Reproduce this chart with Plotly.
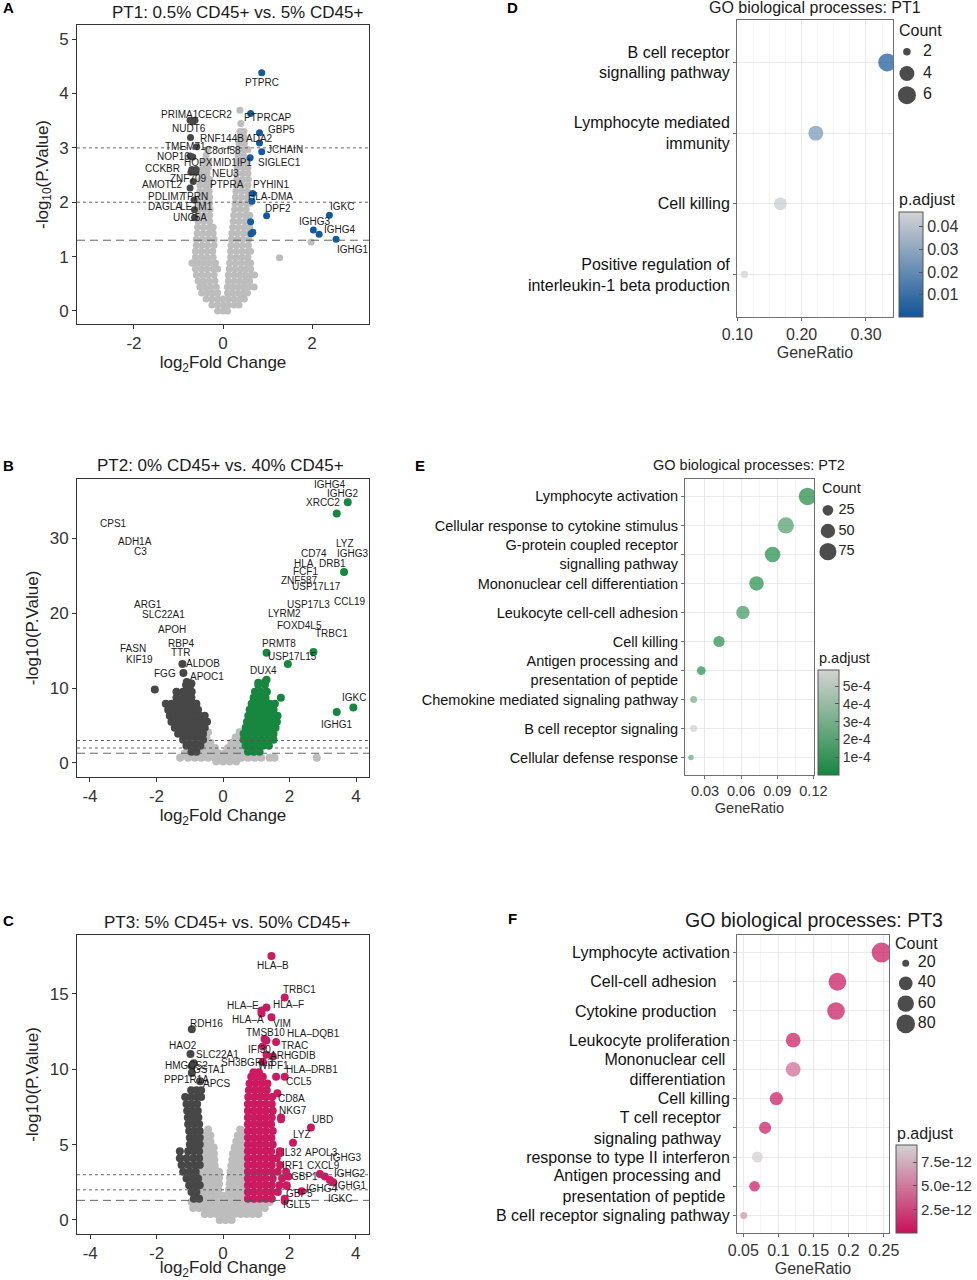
import plotly.graph_objects as go

W, H = 977, 1280
FONT = "Liberation Sans, Arial, Helvetica, sans-serif"

# ------------------------------------------------------------------ data
# Panel A  (PT1 volcano) -- rows of (-log10 p, [log2FC ...]) for the grey cloud
a_grey_rows = [
    (0.00, [-0.12, 0.0, 0.1]),
    (0.11, [-0.25, -0.12, 0.0, 0.12, 0.25, 0.36]),
    (0.22, [-0.38, -0.25, -0.12, 0.0, 0.12, 0.25, 0.38, 0.48]),
    (0.33, [-0.48, -0.36, -0.24, -0.12, 0.1, 0.22, 0.34, 0.46, 0.55]),
    (0.44, [-0.52, -0.4, -0.28, -0.15, 0.1, 0.22, 0.34, 0.46, 0.58, 0.7]),
    (0.55, [-0.56, -0.44, -0.31, -0.18, 0.12, 0.25, 0.38, 0.5, 0.6]),
    (0.66, [-0.6, -0.47, -0.34, -0.2, 0.12, 0.25, 0.38, 0.5, 0.63, 0.71]),
    (0.77, [-0.62, -0.49, -0.36, -0.22, -0.12, 0.14, 0.27, 0.4, 0.52, 0.62]),
    (0.88, [-0.7, -0.56, -0.43, -0.3, -0.17, 0.15, 0.28, 0.41, 0.54, 0.62]),
    (0.99, [-0.62, -0.49, -0.36, -0.22, 0.17, 0.3, 0.43, 0.56]),
    (1.10, [-0.62, -0.49, -0.36, -0.23, 0.17, 0.3, 0.43, 0.56, 0.62]),
    (1.21, [-0.6, -0.47, -0.34, -0.2, 0.18, 0.31, 0.44, 0.57]),
    (1.32, [-0.6, -0.47, -0.34, -0.2, 0.19, 0.32, 0.45, 0.58]),
    (1.43, [-0.58, -0.45, -0.32, -0.22, 0.2, 0.33, 0.46, 0.58]),
    (1.54, [-0.57, -0.44, -0.31, -0.22, 0.22, 0.35, 0.48, 0.6]),
    (1.65, [-0.56, -0.43, -0.3, 0.23, 0.36, 0.49, 0.58]),
    (1.76, [-0.55, -0.42, -0.3, 0.24, 0.37, 0.5, 0.6]),
    (1.87, [-0.54, -0.41, -0.29, 0.26, 0.39, 0.52]),
    (1.98, [-0.53, -0.41, -0.3, 0.27, 0.4, 0.53, 0.6]),
    (2.09, [-0.52, -0.4, -0.3, 0.28, 0.41, 0.54]),
    (2.20, [-0.52, -0.4, -0.31, 0.29, 0.42, 0.55]),
    (2.31, [-0.52, -0.4, -0.31, 0.3, 0.43, 0.56]),
    (2.42, [-0.5, -0.38, -0.3, 0.31, 0.44, 0.57]),
    (2.53, [-0.48, -0.36, 0.31, 0.44, 0.56]),
    (2.64, [-0.45, -0.33, 0.32, 0.45, 0.56]),
    (2.75, [-0.42, -0.32, 0.33, 0.46, 0.55]),
    (2.86, [-0.38, 0.34, 0.46]),
    (2.97, [-0.35, 0.35, 0.47, 0.56]),
    (3.08, [0.36, 0.48]),
    (3.19, [0.37, 0.48]),
    (3.30, [0.38, 0.47]),
    (3.45, [0.4]),
    (3.69, [0.38]),
]
a_grey_extra = [(1.98, 1.27), (1.27, 0.98), (-0.68, 0.88)]
a_down = [(-0.74, 3.51), (-0.63, 3.51), (-0.68, 3.48), (-0.73, 3.19), (-0.74, 2.85),
          (-0.68, 2.83), (-0.59, 3.02), (-0.72, 2.55), (-0.61, 2.55), (-0.67, 2.38),
          (-0.74, 2.26), (-0.65, 2.04), (-0.64, 1.86), (-0.64, 1.72), (-0.6, 2.6), (-0.7, 2.6)]
a_up = [(0.87, 4.38), (0.62, 3.63), (0.82, 3.28), (0.82, 3.09), (0.87, 2.93), (0.61, 2.82),
        (0.67, 2.16), (0.65, 2.02), (0.98, 1.75), (0.62, 1.64), (0.67, 1.45), (0.63, 1.42),
        (2.39, 1.76), (2.03, 1.49), (2.16, 1.41), (2.54, 1.32)]
a_labels = [("PTPRC", 0.88, 4.2), ("PTPRCAP", 1.0, 3.55), ("GBP5", 1.32, 3.34), ("ADA2", 0.83, 3.17),
            ("JCHAIN", 1.39, 2.97), ("SIGLEC1", 1.27, 2.73), ("PYHIN1", 1.09, 2.32),
            ("HLA-DMA", 1.06, 2.1), ("DPF2", 1.24, 1.89), ("IGKC", 2.67, 1.92),
            ("IGHG3", 2.07, 1.64), ("IGHG4", 2.63, 1.49), ("IGHG1", 2.93, 1.13),
            ("PRIMA1", -0.97, 3.62), ("CECR2", -0.18, 3.62), ("NUDT6", -0.76, 3.36),
            ("RNF144B", -0.03, 3.17), ("TMEM71", -0.85, 3.02), ("C8orf58", -0.01, 2.96),
            ("NOP16", -1.12, 2.84), ("HOPX", -0.55, 2.73), ("MID1IP1", 0.21, 2.73),
            ("CCKBR", -1.37, 2.62), ("NEU3", 0.06, 2.53), ("ZNF709", -0.78, 2.44),
            ("PTPRA", 0.08, 2.32), ("AMOTL2", -1.38, 2.32), ("PDLIM7", -1.27, 2.11),
            ("TPRN", -0.63, 2.11), ("DAGLA", -1.3, 1.92), ("LETM1", -0.59, 1.92),
            ("UNC5A", -0.75, 1.72)]

# Panel B  (PT2 volcano)
b_grey_rows = [
    (0.2, [-0.2, 0.0, 0.2, 0.4]),
    (0.7, [-1.29, -1.05, -0.85, -0.65, -0.45, -0.25, -0.05, 0.15, 0.35, 0.55, 0.75, 0.95,
           1.15, 1.4, 1.55, 2.82]),
    (1.3, [-1.15, -0.95, -0.75, -0.55, -0.35, -0.15, 0.05, 0.25, 0.45, 0.65, 0.85, 1.05]),
    (2.0, [-0.78, -0.6, -0.42, -0.24, 0.15, 0.33, 0.5, 0.66]),
    (2.7, [-0.72, -0.55, -0.38, 0.25, 0.42, 0.6]),
    (3.4, [-0.66, -0.5, 0.38, 0.55, 0.7]),
    (4.1, [-0.6, -0.45, 0.5]),
    (4.6, [-0.58]),
]
b_down_rows = [
    (1.5, [-0.95, -0.8]),
    (2.3, [-1.1, -0.95, -0.8, -0.68]),
    (3.1, [-1.2, -1.05, -0.9, -0.75, -0.6]),
    (3.9, [-1.35, -1.2, -1.05, -0.9, -0.75, -0.6]),
    (4.7, [-1.45, -1.3, -1.15, -1.0, -0.85, -0.7, -0.55]),
    (5.5, [-1.55, -1.4, -1.25, -1.1, -0.95, -0.8, -0.65, -0.48]),
    (6.3, [-1.6, -1.45, -1.3, -1.15, -1.0, -0.85, -0.7, -0.55]),
    (7.1, [-1.65, -1.5, -1.35, -1.2, -1.05, -0.9, -0.75]),
    (7.9, [-1.72, -1.55, -1.4, -1.25, -1.1, -0.95, -0.8]),
    (8.7, [-1.4, -1.25, -1.1, -0.95]),
    (9.5, [-1.4, -1.2, -1.05, -0.94]),
    (10.4, [-1.11, -0.98]),
]
b_down_extra = [(-2.05, 9.8), (-1.22, 13.2), (-1.19, 12.0), (-0.95, 10.6), (-1.09, 10.8)]
b_up_rows = [
    (1.5, [0.75, 0.92, 1.1]),
    (2.3, [0.68, 0.85, 1.02, 1.2, 1.38]),
    (3.1, [0.62, 0.8, 0.98, 1.16, 1.34, 1.52]),
    (3.9, [0.62, 0.8, 0.98, 1.16, 1.34, 1.52]),
    (4.7, [0.68, 0.86, 1.04, 1.22, 1.4, 1.58]),
    (5.5, [0.72, 0.9, 1.08, 1.26, 1.44, 1.62]),
    (6.3, [0.76, 0.94, 1.12, 1.3, 1.48, 1.64]),
    (7.1, [0.8, 0.98, 1.16, 1.34, 1.52]),
    (7.9, [0.86, 1.04, 1.22, 1.4, 1.56]),
    (8.7, [0.92, 1.1, 1.28, 1.74]),
    (9.5, [0.96, 1.14, 1.32]),
    (10.4, [1.06, 1.26]),
    (11.1, [1.31]),
]
b_up_extra = [(3.75, 34.8), (3.42, 33.3), (3.64, 25.5), (2.72, 14.8), (1.95, 13.2),
              (1.31, 14.7), (3.92, 7.4), (3.42, 6.8), (1.06, 10.7), (1.26, 10.8)]
b_labels = [("IGHG4", 3.22, 37.1), ("IGHG2", 3.62, 35.9), ("XRCC2", 3.02, 34.7),
            ("CPS1", -3.3, 32.0), ("ADH1A", -2.65, 29.5), ("C3", -2.48, 28.2),
            ("LYZ", 3.67, 29.3), ("CD74", 2.75, 28.0), ("IGHG3", 3.9, 27.9),
            ("HLA", 2.44, 26.6), ("DRB1", 3.29, 26.6), ("FCF1", 2.47, 25.5),
            ("ZNF587", 2.29, 24.4), ("USP17L17", 2.82, 23.5), ("CCL19", 3.82, 21.6),
            ("USP17L3", 2.57, 21.2), ("LYRM2", 1.86, 20.0), ("ARG1", -2.25, 21.2),
            ("SLC22A1", -1.8, 19.8), ("APOH", -1.54, 17.8), ("FOXD4L5", 2.29, 18.4),
            ("TRBC1", 3.25, 17.3), ("RBP4", -1.26, 16.0), ("PRMT8", 1.69, 16.0),
            ("FASN", -2.7, 15.3), ("TTR", -1.29, 14.7), ("USP17L15", 2.1, 14.2),
            ("KIF19", -2.5, 13.8), ("ALDOB", -0.59, 13.3), ("FGG", -1.74, 12.0),
            ("APOC1", -0.47, 11.6), ("DUX4", 1.21, 12.3), ("IGKC", 3.95, 8.8),
            ("IGHG1", 3.42, 5.2)]

# Panel C  (PT3 volcano)
c_grey_rows = [
    (0.0, [-0.1, 0.08, 0.26]),
    (0.4, [-0.55, -0.37, -0.19, -0.01, 0.17, 0.35, 0.53, 0.71, 0.89, 1.07]),
    (0.8, [-0.9, -0.72, -0.54, -0.36, -0.18, 0.0, 0.18, 0.36, 0.54, 0.72, 0.9, 1.08, 1.26]),
    (1.2, [-0.95, -0.77, -0.59, -0.41, -0.23, -0.05, 0.13, 0.31, 0.49, 0.67, 0.85, 1.03,
           1.2, 1.4]),
    (1.6, [-0.7, -0.52, -0.34, -0.16, 0.0, 0.15, 0.33, 0.51, 0.66]),
    (2.0, [-0.68, -0.5, -0.32, -0.14, 0.18, 0.36, 0.54, 0.66]),
    (2.4, [-0.66, -0.48, -0.3, -0.12, 0.2, 0.38, 0.56, 0.66]),
    (2.8, [-0.64, -0.46, -0.28, -0.12, 0.21, 0.39, 0.57, 0.66]),
    (3.2, [-0.62, -0.44, -0.26, -0.12, 0.23, 0.41, 0.58, 0.66]),
    (3.6, [-0.6, -0.42, -0.25, 0.25, 0.43, 0.6]),
    (4.0, [-0.6, -0.42, -0.26, 0.28, 0.45, 0.6]),
    (4.4, [-0.58, -0.4, -0.27, 0.3, 0.46, 0.6]),
    (4.8, [-0.56, -0.4, -0.28, 0.35, 0.5, 0.6]),
    (5.2, [-0.52, -0.38, 0.4, 0.52]),
    (5.6, [-0.5, -0.38, 0.45, 0.56]),
    (6.0, [-0.45, 0.52]),
]
c_down_rows = [
    (1.4, [-0.88, -0.72]),
    (1.85, [-0.95, -0.8]),
    (2.3, [-1.02, -0.86, -0.7]),
    (2.75, [-1.1, -0.92, -0.75]),
    (3.2, [-1.2, -1.0, -0.82]),
    (3.65, [-1.25, -1.05, -0.86, -0.7]),
    (4.1, [-1.3, -1.1, -0.9, -0.72]),
    (4.55, [-1.3, -1.05, -0.88, -0.72]),
    (5.0, [-1.0, -0.85, -0.7]),
    (5.45, [-1.0, -0.85, -0.7]),
    (5.9, [-1.02, -0.86, -0.7]),
    (6.35, [-1.05, -0.88, -0.72]),
    (6.8, [-1.06, -0.9, -0.74]),
    (7.25, [-1.08, -0.92, -0.76]),
    (7.7, [-1.1, -0.94, -0.78]),
    (8.15, [-1.14, -0.96, -0.8, -0.66]),
    (8.6, [-0.96, -0.8, -0.66]),
]
c_down_extra = [(-0.69, 9.2), (-0.94, 9.75), (-0.94, 10.2), (-0.88, 10.4), (-0.98, 11.0),
                (-0.94, 12.65)]
c_up_rows = [
    (1.4, [0.75, 0.93, 1.11, 1.29, 1.47, 1.86]),
    (1.85, [0.75, 0.93, 1.11, 1.29, 1.47, 1.65]),
    (2.3, [0.75, 0.93, 1.11, 1.29, 1.47, 1.7, 1.92]),
    (2.75, [0.75, 0.93, 1.11, 1.29, 1.5, 1.78]),
    (3.2, [0.75, 0.93, 1.11, 1.29, 1.47, 1.65, 1.9]),
    (3.65, [0.75, 0.93, 1.11, 1.29, 1.47, 1.72]),
    (4.1, [0.75, 0.93, 1.11, 1.29, 1.47, 1.62]),
    (4.55, [0.75, 0.93, 1.11, 1.29, 1.45, 1.71]),
    (5.0, [0.75, 0.93, 1.11, 1.29, 1.5]),
    (5.45, [0.75, 0.93, 1.11, 1.29, 1.46]),
    (5.9, [0.75, 0.93, 1.11, 1.29, 1.5]),
    (6.35, [0.75, 0.93, 1.11, 1.29, 1.45]),
    (6.8, [0.75, 0.93, 1.11, 1.29, 1.47, 1.75]),
    (7.25, [0.75, 0.93, 1.11, 1.29, 1.5]),
    (7.7, [0.75, 0.93, 1.11, 1.29, 1.47]),
    (8.15, [0.76, 0.94, 1.12, 1.3, 1.48]),
    (8.6, [0.78, 0.96, 1.14, 1.32]),
    (9.05, [0.8, 0.98, 1.16, 1.34]),
    (9.5, [0.85, 1.03, 1.2, 1.6, 1.86]),
    (9.8, [0.92, 1.08]),
]
c_up_extra = [(1.64, 8.4), (1.2, 11.5), (1.31, 11.9), (1.6, 11.8), (1.25, 12.0), (1.31, 10.95),
              (1.5, 10.85), (1.2, 10.5), (1.16, 13.7), (1.46, 13.45), (1.16, 13.9), (1.31, 14.1),
              (1.86, 14.75), (1.46, 17.5), (1.75, 6.68), (2.65, 6.13), (2.11, 5.13), (1.71, 4.42),
              (2.92, 3.05), (3.07, 2.88), (3.22, 2.65), (3.32, 2.5), (1.97, 2.88), (1.92, 2.26),
              (1.86, 1.26), (2.37, 1.9)]
c_labels = [("HLA–B", 1.51, 16.85), ("TRBC1", 2.32, 15.3), ("HLA–F", 1.96, 14.3),
            ("HLA–E", 0.59, 14.2), ("HLA–A", 0.76, 13.3), ("VIM", 1.79, 13.05),
            ("RDH16", -0.51, 13.05), ("TMSB10", 1.29, 12.45), ("HLA–DQB1", 2.72, 12.35),
            ("TRAC", 2.15, 11.6), ("HAO2", -1.21, 11.6), ("IFI30", 1.09, 11.3),
            ("ARHGDIB", 2.1, 10.9), ("SLC22A1", -0.17, 10.95), ("SH3BGRL3", 0.73, 10.46),
            ("HMGCS2", -1.09, 10.24), ("GSTA1", -0.41, 9.95), ("WIPF1", 1.51, 10.24),
            ("HLA–DRB1", 2.67, 10.0), ("PPP1R1A", -1.09, 9.33), ("APCS", -0.19, 9.02),
            ("CCL5", 2.29, 9.18), ("CD8A", 2.05, 8.03), ("NKG7", 2.11, 7.23), ("UBD", 3.0, 6.64),
            ("LYZ", 2.37, 5.68), ("IL32", 2.07, 4.47), ("APOL3", 2.97, 4.47), ("IGHG3", 3.72, 4.14),
            ("IRF1", 2.11, 3.61), ("CXCL9", 3.02, 3.61), ("IGHG2", 3.82, 3.05),
            ("GBP1", 2.47, 2.88), ("IGHG1", 3.87, 2.28), ("IGHG4", 2.97, 2.06),
            ("GBP5", 2.32, 1.77), ("IGKC", 3.52, 1.44), ("IGLL5", 2.22, 1.0)]

thresholds = [3.0, 2.0, 1.30103]   # p = 0.001, 0.01, 0.05
threshold_dash = ["dot", "dot", "8px,5px"]

# GO enrichment panels
d_terms = ["B cell receptor<br>signalling pathway", "Lymphocyte mediated<br>immunity",
           "Cell killing", "Positive regulation of<br>interleukin-1 beta production"]
d_ratio = [0.333, 0.222, 0.167, 0.111]
d_count = [6, 4, 3, 2]
d_padj = [0.0004, 0.024, 0.043, 0.046]
d_count_breaks = [2, 4, 6]
d_padj_ticks = [0.01, 0.02, 0.03, 0.04]

e_terms = ["Lymphocyte activation", "Cellular response to cytokine stimulus",
           "G-protein coupled receptor<br>signalling pathway", "Mononuclear cell differentiation",
           "Leukocyte cell-cell adhesion", "Cell killing",
           "Antigen processing and<br>presentation of peptide",
           "Chemokine mediated signaling pathway", "B cell receptor signaling",
           "Cellular defense response"]
e_ratio = [0.1151, 0.0971, 0.0861, 0.0728, 0.0615, 0.0416, 0.0269, 0.0206, 0.0206, 0.0184]
e_count = [79, 66, 59, 50, 42, 28, 18, 14, 14, 13]
e_padj = [2e-6, 1.6e-4, 2e-5, 3e-5, 1.2e-4, 3e-5, 4e-5, 2.8e-4, 5.7e-4, 2.4e-4]
e_count_breaks = [25, 50, 75]
e_padj_ticks = [1e-4, 2e-4, 3e-4, 4e-4, 5e-4]
e_padj_ticktext = ["1e-4", "2e-4", "3e-4", "4e-4", "5e-4"]

NB = "\u00a0"
f_terms = ["Lymphocyte activation", "Cell-cell adhesion" + NB * 3, "Cytokine production" + NB * 3,
           "Leukocyte proliferation", "Mononuclear cell" + NB + "<br>differentiation" + NB,
           "Cell killing", "T cell receptor" + NB * 2 + "<br>signaling pathway" + NB * 2,
           "response to type II interferon",
           "Antigen processing and" + NB * 2 + "<br>presentation of peptide" + NB,
           "B cell receptor signaling pathway"]
f_ratio = [0.247, 0.184, 0.182, 0.121, 0.121, 0.097, 0.081, 0.070, 0.066, 0.0506]
f_count = [96, 72, 71, 47, 47, 38, 32, 27, 26, 20]
f_padj = [1e-14, 2e-14, 5e-14, 1.5e-13, 4.0e-12, 2e-13, 3e-13, 9.0e-12, 3e-13, 6.0e-12]
f_count_breaks = [20, 40, 60, 80]
f_padj_ticks = [2.5e-12, 5.0e-12, 7.5e-12]
f_padj_ticktext = ["2.5e-12", "5.0e-12", "7.5e-12"]

# ------------------------------------------------------------------ helpers
def fx(p):
    return p / W


def fy(p):
    return 1 - p / H


def unpack_rows(rows):
    xs, ys = [], []
    for y, row in rows:
        for x in row:
            xs.append(x)
            ys.append(y)
    return xs, ys


def unpack_pts(pts):
    return [p[0] for p in pts], [p[1] for p in pts]


def size_scale(counts, lo, hi, dmin, dmax):
    return [dmin + (dmax - dmin) * ((c - lo) / (hi - lo)) ** 0.5 for c in counts]


GREY = "#bdbdbd"
DARK = "#474747"
BLUE = "#145a9e"
GREEN = "#17873f"
PINK = "#cc1a60"
LIGHT = "#d3d3d3"

fig = go.Figure()
annotations = []
shapes = []
layout = {}


def ax_names(i):
    return ("x" if i == 1 else f"x{i}"), ("y" if i == 1 else f"y{i}")


def volcano(i, box, xr, yr, grey, down, up, up_color, labels, msize, ytitle, xticks, yticks):
    xa, ya = ax_names(i)
    l, t, r, b = box
    common = dict(showline=True, mirror=True, linecolor="#333333", linewidth=1,
                  ticks="outside", ticklen=4, tickcolor="#333333", showgrid=False,
                  zeroline=False, automargin=False,
                  tickfont=dict(size=17, color="#333333", family=FONT))
    layout["xaxis" if i == 1 else f"xaxis{i}"] = dict(
        domain=[fx(l), fx(r)], range=xr, anchor=ya, tickmode="array", tickvals=xticks,
        ticktext=[str(v) for v in xticks],
        title=dict(text="log<sub>2</sub>Fold Change", standoff=2,
                   font=dict(size=17, color="#222222", family=FONT)), **common)
    layout["yaxis" if i == 1 else f"yaxis{i}"] = dict(
        domain=[fy(b), fy(t)], range=yr, anchor=xa, tickmode="array", tickvals=yticks,
        ticktext=[str(v) for v in yticks],
        title=dict(text=ytitle, standoff=6, font=dict(size=17, color="#222222", family=FONT)),
        **common)
    for data, col in ((grey, GREY), (down, DARK), (up, up_color)):
        fig.add_trace(go.Scatter(x=data[0], y=data[1], mode="markers", xaxis=xa, yaxis=ya,
                                 marker=dict(size=msize, color=col, line=dict(width=0)),
                                 showlegend=False, hoverinfo="skip"))
    for thr, dash in zip(thresholds, threshold_dash):
        shapes.append(dict(type="line", xref=f"{xa} domain", yref=ya, x0=0, x1=1, y0=thr, y1=thr,
                           line=dict(color="#555555", width=0.9, dash=dash), layer="above"))
    for name, lx, ly in labels:
        annotations.append(dict(x=lx, y=ly, xref=xa, yref=ya, text=name, showarrow=False,
                                font=dict(size=10, color="#1a1a1a", family=FONT)))


def merge(a, b):
    return a[0] + b[0], a[1] + b[1]


volcano(1, (77, 25, 369, 324), [-3.28, 3.28], [-0.24, 5.26],
        merge(unpack_rows(a_grey_rows), unpack_pts(a_grey_extra)), unpack_pts(a_down),
        unpack_pts(a_up), BLUE, a_labels, 7, "-log<sub>10</sub>(P.Value)", [-2, 0, 2],
        [0, 1, 2, 3, 4, 5])
volcano(2, (77, 479, 369, 777), [-4.39, 4.39], [-1.87, 37.9],
        unpack_rows(b_grey_rows), merge(unpack_rows(b_down_rows), unpack_pts(b_down_extra)),
        merge(unpack_rows(b_up_rows), unpack_pts(b_up_extra)), GREEN, b_labels, 8,
        "-log10(P.Value)", [-4, -2, 0, 2, 4], [0, 10, 20, 30])
volcano(3, (77, 935, 369, 1234), [-4.4, 4.4], [-0.93, 18.9],
        unpack_rows(c_grey_rows), merge(unpack_rows(c_down_rows), unpack_pts(c_down_extra)),
        merge(unpack_rows(c_up_rows), unpack_pts(c_up_extra)), PINK, c_labels, 8,
        "-log10(P.Value)", [-4, -2, 0, 2, 4], [0, 5, 10, 15])


def go_panel(i, box, xr, xticks, xticktext, minor_dtick, terms, ratio, count, padj, low_color,
             cmin, cmax, cticks, cticktext, cbar_box, fs, cfs, size_rng, key_i, key_box, breaks,
             key_marker_x, key_text_x):
    xa, ya = ax_names(i)
    l, t, r, b = box
    n = len(terms)
    layout[f"xaxis{i}"] = dict(
        domain=[fx(l), fx(r)], range=xr, anchor=ya, tickmode="array", tickvals=xticks,
        ticktext=xticktext, showline=True, mirror=True, linecolor="#6e6e6e", linewidth=1,
        ticks="outside", ticklen=3, tickcolor="#6e6e6e", showgrid=True, gridcolor="#e6e6e6",
        gridwidth=0.8, zeroline=False, automargin=False,
        minor=dict(tick0=0, dtick=minor_dtick, showgrid=True, gridcolor="#efefef", gridwidth=0.6),
        tickfont=dict(size=fs, color="#333333", family=FONT),
        title=dict(text="GeneRatio", standoff=4, font=dict(size=fs, color="#333333", family=FONT)))
    layout[f"yaxis{i}"] = dict(
        domain=[fy(b), fy(t)], range=[n - 1 + 0.6, -0.6], anchor=xa, tickmode="array",
        tickvals=list(range(n)), ticktext=terms, showline=True, mirror=True,
        linecolor="#6e6e6e", linewidth=1, ticks="outside", ticklen=3, tickcolor="#6e6e6e",
        showgrid=True, gridcolor="#e6e6e6", gridwidth=0.8, zeroline=False, automargin=False,
        tickfont=dict(size=fs, color="#111111", family=FONT))
    lo, hi = min(count), max(count)
    cl, ct, cw, clen = cbar_box
    fig.add_trace(go.Scatter(
        x=ratio, y=list(range(n)), mode="markers", xaxis=xa, yaxis=ya, showlegend=False,
        hoverinfo="skip",
        marker=dict(size=size_scale(count, lo, hi, *size_rng), color=padj,
                    colorscale=[[0, low_color], [1, LIGHT]], cmin=cmin, cmax=cmax,
                    line=dict(width=0), showscale=True,
                    colorbar=dict(x=fx(cl), xanchor="left", y=fy(ct), yanchor="top",
                                  lenmode="pixels", len=clen, thickness=cw, xpad=0, ypad=0,
                                  outlinewidth=1, outlinecolor="#555555", ticks="inside",
                                  ticklen=4, tickcolor="#555555", tickvals=cticks,
                                  ticktext=cticktext,
                                  tickfont=dict(size=cfs, color="#333333", family=FONT)))))
    # size key
    kxa, kya = ax_names(key_i)
    kl, kt, kr, kb = key_box
    layout[f"xaxis{key_i}"] = dict(domain=[fx(kl), fx(kr)], range=[0, 1], anchor=kya,
                                   visible=False, fixedrange=True)
    layout[f"yaxis{key_i}"] = dict(domain=[fy(kb), fy(kt)], range=[len(breaks) - 0.5, -0.5],
                                   anchor=kxa, visible=False, fixedrange=True)
    fig.add_trace(go.Scatter(
        x=[key_marker_x] * len(breaks), y=list(range(len(breaks))), mode="markers",
        xaxis=kxa, yaxis=kya, showlegend=False, hoverinfo="skip",
        marker=dict(size=size_scale(breaks, lo, hi, *size_rng), color="black",
                    line=dict(width=0))))
    fig.add_trace(go.Scatter(
        x=[key_text_x] * len(breaks), y=list(range(len(breaks))), mode="text",
        text=[str(v) for v in breaks], textposition="middle right", xaxis=kxa, yaxis=kya,
        showlegend=False, hoverinfo="skip",
        textfont=dict(size=fs, color="#222222", family=FONT)))


go_panel(4, (737, 20, 893, 317), [0.0995, 0.342], [0.1, 0.2, 0.3], ["0.10", "0.20", "0.30"],
         0.025, d_terms, d_ratio, d_count, d_padj, "#0f5499", 0.0003, 0.0463, d_padj_ticks,
         ["0.01", "0.02", "0.03", "0.04"], (899, 212, 24, 105), 16, 16, (7.5, 18), 7,
         (895, 41, 965, 106), d_count_breaks, 0.17, 0.4)
go_panel(5, (685, 479, 814, 775), [0.0134, 0.1205], [0.03, 0.06, 0.09, 0.12],
         ["0.03", "0.06", "0.09", "0.12"], 0.015, e_terms, e_ratio, e_count, e_padj, "#16873f",
         0.0, 5.9e-4, e_padj_ticks, e_padj_ticktext, (818, 670, 21, 105), 14.5, 14, (5.5, 17.5),
         8, (818, 500, 880, 562), e_count_breaks, 0.16, 0.33)
go_panel(6, (737, 935, 889, 1233), [0.041, 0.2575], [0.05, 0.1, 0.15, 0.2, 0.25],
         ["0.05", "0.1", "0.15", "0.2", "0.25"], 0.025, f_terms, f_ratio, f_count, f_padj,
         "#c8105a", 0.0, 9.3e-12, f_padj_ticks, f_padj_ticktext, (896, 1145, 21, 88), 16, 15,
         (7, 20), 9, (893, 953, 960, 1034), f_count_breaks, 0.19, 0.37)

# ------------------------------------------------------------------ text
def paper_text(text, x, y, size, xanchor="center", color="#1a1a1a"):
    annotations.append(dict(x=fx(x), y=fy(y), xref="paper", yref="paper", text=text,
                            showarrow=False, xanchor=xanchor, yanchor="middle",
                            font=dict(size=size, color=color, family=FONT)))


paper_text("PT1: 0.5% CD45+ vs. 5% CD45+", 237, 13, 17)
paper_text("PT2: 0% CD45+ vs. 40% CD45+", 220, 465, 17)
paper_text("PT3: 5% CD45+ vs. 50% CD45+", 227, 922, 17)
paper_text("GO biological processes: PT1", 815, 8, 16)
paper_text("GO biological processes: PT2", 749, 465, 14.5)
paper_text("GO biological processes: PT3", 814, 920, 19.5)
for letter, lx, ly in (("A", 8, 8), ("B", 8, 465), ("C", 8, 920), ("D", 512, 8),
                       ("E", 420, 466), ("F", 512, 918)):
    paper_text(f"<b>{letter}</b>", lx, ly, 15, color="#000000")
paper_text("Count", 897, 31, 16, xanchor="left")
paper_text("Count", 820, 488, 14.5, xanchor="left")
paper_text("Count", 893, 943, 16, xanchor="left")
paper_text("p.adjust", 897, 199, 16, xanchor="left")
paper_text("p.adjust", 817, 658, 14.5, xanchor="left")
paper_text("p.adjust", 895, 1133, 16, xanchor="left")

fig.update_layout(
    width=W, height=H, margin=dict(l=0, r=0, t=0, b=0, autoexpand=False),
    paper_bgcolor="white", plot_bgcolor="white", font=dict(family=FONT, color="#222222"),
    annotations=annotations, shapes=shapes, showlegend=False, **layout)

fig.write_html("out.html", config={"displayModeBar": False, "staticPlot": True},
               post_script="document.body.style.margin='0px';")
